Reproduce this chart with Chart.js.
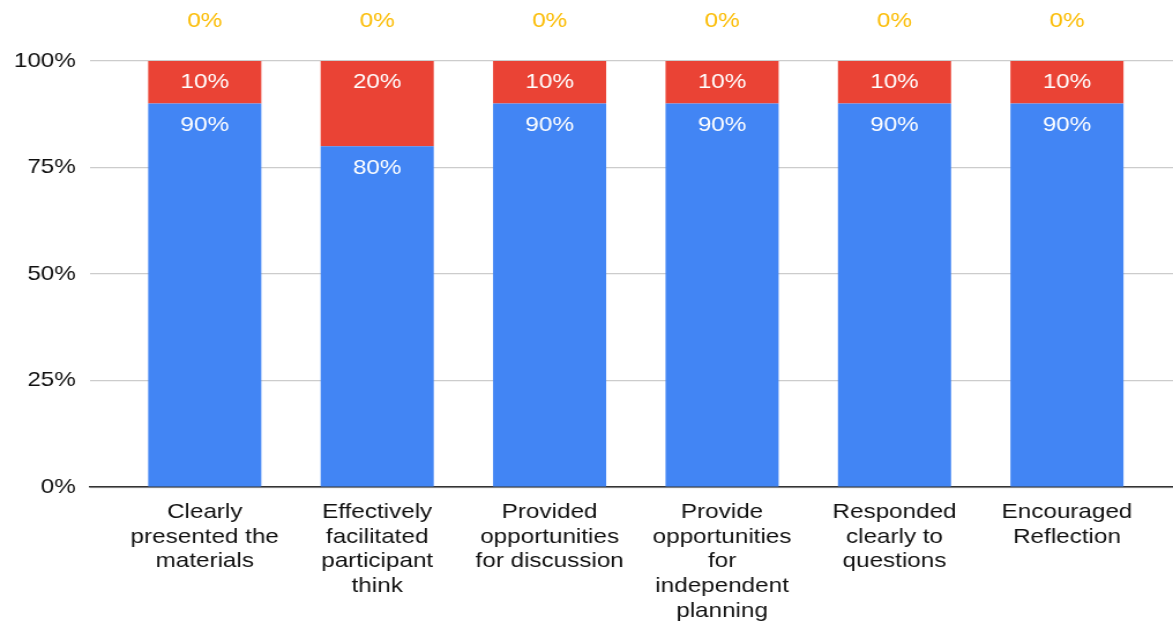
<!DOCTYPE html>
<html>
<head>
<meta charset="utf-8">
<script src="https://cdn.jsdelivr.net/npm/chart.js@4/dist/chart.umd.min.js"></script>
<style>
  html, body { margin: 0; padding: 0; background: #fff; }
  #grafica { display: block; }
</style>
</head>
<body>
<!-- the chart is laid out narrow and widened, which gives the wide lettering -->
<canvas id="grafica" width="1016" height="626" style="width:1173px;height:626px"></canvas>
<script>
const categories = [
  ['Clearly', 'presented the', 'materials'],
  ['Effectively', 'facilitated', 'participant', 'think'],
  ['Provided', 'opportunities', 'for discussion'],
  ['Provide', 'opportunities', 'for', 'independent', 'planning'],
  ['Responded', 'clearly to', 'questions'],
  ['Encouraged', 'Reflection']
];

const agree = [90, 80, 90, 90, 90, 90];
const partly = [10, 20, 10, 10, 10, 10];
const disagree = [0, 0, 0, 0, 0, 0];

const yTicks = [0, 25, 50, 75, 100];

const FONT = '"Liberation Sans", Arial, Helvetica, sans-serif';

const toPoints = (arr) => arr.map((v, i) => ({ x: i, y: v }));

// percent labels on each segment, the empty one sits above the bar
const segmentLabels = {
  id: 'segmentLabels',
  afterDatasetsDraw(chart) {
    const ctx = chart.ctx;
    ctx.save();
    ctx.font = '21px ' + FONT;
    ctx.textAlign = 'center';
    ctx.textBaseline = 'middle';
    chart.data.datasets.forEach((ds, di) => {
      const meta = chart.getDatasetMeta(di);
      meta.data.forEach((bar, i) => {
        const v = ds.data[i].y;
        if (v === 0) {
          ctx.fillStyle = ds.backgroundColor;
          ctx.fillText(v + '%', bar.x, bar.y - 40);
        } else {
          ctx.fillStyle = '#ffffff';
          ctx.fillText(v + '%', bar.x, bar.y + 21.5);
        }
      });
    });
    ctx.restore();
  }
};

const grafica = document.getElementById('grafica');

new Chart(grafica, {
  type: 'bar',
  data: {
    datasets: [
      { label: 'Agree', data: toPoints(agree), backgroundColor: '#4285f4',
        categoryPercentage: 1, barPercentage: 0.656, borderWidth: 0 },
      { label: 'Somewhat', data: toPoints(partly), backgroundColor: '#ea4335',
        categoryPercentage: 1, barPercentage: 0.656, borderWidth: 0 },
      { label: 'Disagree', data: toPoints(disagree), backgroundColor: '#fbbc04',
        categoryPercentage: 1, barPercentage: 0.656, borderWidth: 0 }
    ]
  },
  options: {
    responsive: false,
    animation: false,
    layout: { padding: { top: 61, left: 0, right: 0, bottom: -10 } },
    plugins: {
      legend: { display: false },
      tooltip: { enabled: false }
    },
    scales: {
      x: {
        type: 'linear',
        stacked: true,
        offset: false,
        min: -0.667,
        max: 5.615,
        afterBuildTicks: (scale) => {
          scale.ticks = categories.map((_, i) => ({ value: i }));
        },
        grid: { display: false, drawTicks: false },
        border: { display: true, color: '#333333', width: 1.5 },
        ticks: {
          autoSkip: false,
          maxRotation: 0,
          padding: 13,
          color: '#111111',
          font: { family: FONT, size: 21, lineHeight: 1.17 },
          callback: (v) => categories[v] || ''
        }
      },
      y: {
        stacked: true,
        min: 0,
        max: 100,
        afterBuildTicks: (scale) => {
          scale.ticks = yTicks.map((v) => ({ value: v }));
        },
        grid: { color: '#cccccc', lineWidth: 1.2, drawTicks: false },
        border: { display: false },
        ticks: {
          padding: 12,
          color: '#111111',
          font: { family: FONT, size: 21 },
          callback: (v) => v + '%'
        }
      }
    }
  },
  plugins: [segmentLabels]
});
</script>
</body>
</html>
